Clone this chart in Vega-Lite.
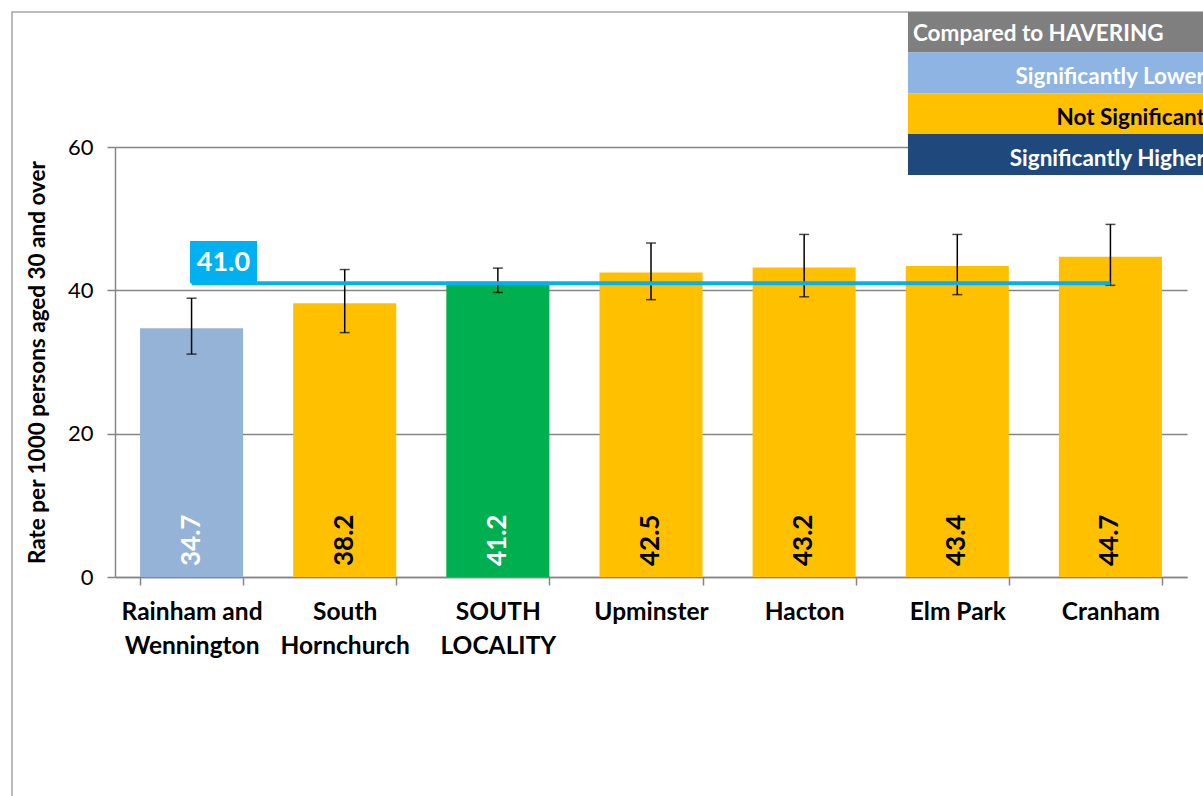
{
  "$schema": "https://vega.github.io/schema/vega-lite/v6.json",
  "autosize": "none",
  "width": 1072,
  "height": 430,
  "padding": {"left": 115, "top": 147, "right": 16, "bottom": 219},
  "background": "white",
  "config": {"view": {"stroke": null}, "font": "Lato"},
  "datasets": {
    "main": [
      {"area": "Rainham and Wennington", "rate": 34.7, "lo": 31.1, "hi": 38.9, "sig": "Lower"},
      {"area": "South Hornchurch", "rate": 38.2, "lo": 34.1, "hi": 42.9, "sig": "Not"},
      {"area": "SOUTH LOCALITY", "rate": 41.2, "lo": 39.7, "hi": 43.1, "sig": "Locality"},
      {"area": "Upminster", "rate": 42.5, "lo": 38.7, "hi": 46.6, "sig": "Not"},
      {"area": "Hacton", "rate": 43.2, "lo": 39.1, "hi": 47.8, "sig": "Not"},
      {"area": "Elm Park", "rate": 43.4, "lo": 39.4, "hi": 47.8, "sig": "Not"},
      {"area": "Cranham", "rate": 44.7, "lo": 40.7, "hi": 49.2, "sig": "Not"}
    ],
    "ref": [
      {"start": "Rainham and Wennington", "end": "Cranham", "value": 41.0}
    ],
    "legend": [
      {"item": "frame", "x1": -0.0961, "x2": 1.3, "y1": 78.85, "y2": -40},
      {"item": "Compared to HAVERING", "x1": 0.7397, "x2": 1.3, "y1": 73.2, "y2": 78.85},
      {"item": "Significantly Lower", "x1": 0.7397, "x2": 1.3, "y1": 67.5, "y2": 73.2},
      {"item": "Not Significant", "x1": 0.7397, "x2": 1.3, "y1": 61.8, "y2": 67.5},
      {"item": "Significantly Higher", "x1": 0.7397, "x2": 1.3, "y1": 56.1, "y2": 61.8}
    ],
    "reflabel": [
      {"label": "41.0", "x1": 0.0700, "x2": 0.1325, "y1": 41.0, "y2": 46.9}
    ]
  },
  "layer": [
    {
      "layer": [
        {
          "data": {"name": "main"},
          "mark": {"type": "bar"},
          "encoding": {
            "x": {
              "field": "area", "type": "nominal", "sort": null,
              "scale": {"paddingInner": 0.327, "paddingOuter": 0.1635},
              "axis": {
                "title": null, "labelAngle": 0, "labelFontSize": 24.5, "labelFontWeight": "bold",
                "labelColor": "black", "labelFont": "Lato", "labelLineHeight": 34, "labelPadding": 15,
                "labelBaseline": "top",
                "labelExpr": "datum.value == 'Rainham and Wennington' ? ['Rainham and', 'Wennington'] : datum.value == 'South Hornchurch' ? ['South', 'Hornchurch'] : datum.value == 'SOUTH LOCALITY' ? ['SOUTH', 'LOCALITY'] : datum.value",
                "tickBand": "extent", "tickSize": 8, "tickColor": "#868686", "tickWidth": 1.5,
                "domainColor": "#868686", "domainWidth": 1.5, "grid": false
              }
            },
            "y": {
              "field": "rate", "type": "quantitative",
              "scale": {"domain": [0, 60], "nice": false},
              "axis": {
                "title": "Rate per 1000 persons  aged 30 and over", "titleFontSize": 22.5, "titleFontWeight": "bold",
                "titleColor": "black", "titleFont": "Lato", "titlePadding": 18,
                "values": [0, 20, 40, 60], "labelFontSize": 22, "labelColor": "black", "labelPadding": 14,
                "tickSize": 8, "tickColor": "#868686", "tickWidth": 1.5,
                "domainColor": "#868686", "domainWidth": 1.5,
                "grid": true, "gridColor": "#868686", "gridWidth": 1.5
              }
            },
            "color": {
              "field": "sig", "type": "nominal",
              "scale": {"domain": ["Lower", "Not", "Locality"], "range": ["#95B3D7", "#FFC000", "#00B050"]},
              "legend": null
            }
          }
        },
        {
          "data": {"name": "main"},
          "mark": {"type": "rule", "color": "black", "strokeWidth": 1.5},
          "encoding": {
            "x": {"field": "area", "type": "nominal", "sort": null},
            "y": {"field": "lo", "type": "quantitative"},
            "y2": {"field": "hi"}
          }
        },
        {
          "data": {"name": "main"},
          "mark": {"type": "tick", "color": "black", "thickness": 1.5, "size": 10},
          "encoding": {
            "x": {"field": "area", "type": "nominal", "sort": null},
            "y": {"field": "lo", "type": "quantitative"}
          }
        },
        {
          "data": {"name": "main"},
          "mark": {"type": "tick", "color": "black", "thickness": 1.5, "size": 10},
          "encoding": {
            "x": {"field": "area", "type": "nominal", "sort": null},
            "y": {"field": "hi", "type": "quantitative"}
          }
        },
        {
          "data": {"name": "ref"},
          "mark": {"type": "rule", "color": "#00B0F0", "strokeWidth": 4},
          "encoding": {
            "x": {"field": "start", "type": "nominal", "sort": null},
            "x2": {"field": "end"},
            "y": {"field": "value", "type": "quantitative"}
          }
        },
        {
          "data": {"name": "main"},
          "mark": {"type": "text", "angle": 270, "align": "left", "baseline": "middle", "dx": 11, "fontSize": 26, "fontWeight": "bold", "font": "Lato"},
          "encoding": {
            "x": {"field": "area", "type": "nominal", "sort": null},
            "y": {"datum": 0, "type": "quantitative"},
            "text": {"field": "rate", "type": "quantitative", "format": ".1f"},
            "color": {"condition": {"test": "datum.sig != 'Not'", "value": "white"}, "value": "black"}
          }
        }
      ]
    },
    {
      "layer": [
        {
          "data": {"name": "reflabel"},
          "mark": {"type": "rect", "color": "#00B0F0", "clip": false},
          "encoding": {
            "x": {"field": "x1", "type": "quantitative", "scale": {"domain": [0, 1], "nice": false, "zero": false}, "axis": null},
            "x2": {"field": "x2"},
            "y": {"field": "y1", "type": "quantitative"},
            "y2": {"field": "y2"}
          }
        },
        {
          "data": {"name": "reflabel"},
          "mark": {"type": "text", "color": "white", "fontSize": 27, "fontWeight": "bold", "font": "Lato", "align": "center", "baseline": "middle"},
          "encoding": {
            "x": {"datum": 0.1012, "type": "quantitative"},
            "y": {"datum": 43.8, "type": "quantitative"},
            "text": {"field": "label"}
          }
        },
        {
          "data": {"name": "legend"},
          "transform": [{"filter": "datum.item == 'frame'"}],
          "mark": {"type": "rect", "fill": null, "fillOpacity": 0, "stroke": "#A6A6A6", "strokeWidth": 1.5, "clip": false},
          "encoding": {
            "x": {"field": "x1", "type": "quantitative"},
            "x2": {"field": "x2"},
            "y": {"field": "y1", "type": "quantitative"},
            "y2": {"field": "y2"}
          }
        },
        {
          "data": {"name": "legend"},
          "transform": [{"filter": "datum.item != 'frame'"}],
          "mark": {"type": "rect", "clip": false},
          "encoding": {
            "x": {"field": "x1", "type": "quantitative"},
            "x2": {"field": "x2"},
            "y": {"field": "y1", "type": "quantitative"},
            "y2": {"field": "y2"},
            "fill": {
              "field": "item", "type": "nominal",
              "scale": {"domain": ["Compared to HAVERING", "Significantly Lower", "Not Significant", "Significantly Higher"], "range": ["#7F7F7F", "#8DB4E2", "#FFC000", "#1F497D"]},
              "legend": null
            }
          }
        },
        {
          "data": {"name": "legend"},
          "transform": [{"filter": "datum.item == 'Compared to HAVERING'"}],
          "mark": {"type": "text", "color": "white", "fontSize": 22.5, "fontWeight": "bold", "font": "Lato", "align": "left", "baseline": "middle", "dx": 5},
          "encoding": {
            "x": {"field": "x1", "type": "quantitative"},
            "y": {"datum": 75.7, "type": "quantitative"},
            "text": {"field": "item"}
          }
        },
        {
          "data": {"name": "legend"},
          "transform": [{"filter": "datum.item != 'frame' && datum.item != 'Compared to HAVERING'"}],
          "mark": {"type": "text", "fontSize": 22.5, "fontWeight": "bold", "font": "Lato", "align": "right", "baseline": "middle", "dy": -16},
          "encoding": {
            "x": {"datum": 1.0168, "type": "quantitative"},
            "y": {"field": "y1", "type": "quantitative"},
            "text": {"field": "item"},
            "color": {"condition": {"test": "datum.item == 'Not Significant'", "value": "black"}, "value": "white"}
          }
        }
      ]
    }
  ],
  "resolve": {"scale": {"x": "independent", "color": "independent"}}
}
